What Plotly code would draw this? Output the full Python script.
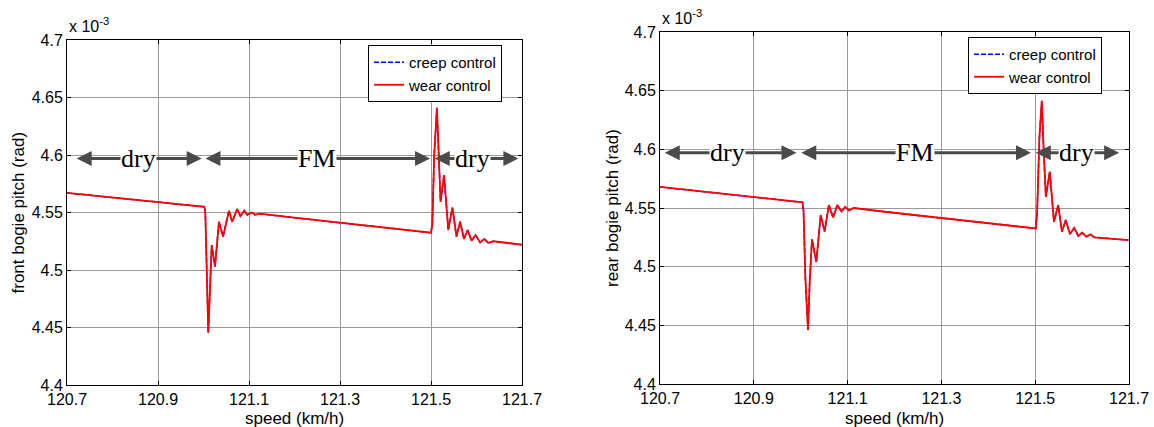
import plotly.graph_objects as go

# Front bogie pitch (x 1e-3 rad) against vehicle speed (km/h)
front_speed = [120.700, 121.002, 121.004, 121.007, 121.0105, 121.014, 121.018, 121.0253,
               121.034, 121.043, 121.056, 121.063, 121.074, 121.081, 121.0897, 121.096,
               121.106, 121.113, 121.123, 121.179, 121.500, 121.503, 121.507, 121.513,
               121.517, 121.521, 121.5286, 121.538, 121.547, 121.556, 121.564, 121.5725,
               121.5806, 121.589, 121.598, 121.608, 121.617, 121.626, 121.637, 121.700]
front_pitch = [4.567, 4.555, 4.550, 4.490, 4.4455, 4.480, 4.5217, 4.503,
               4.542, 4.529, 4.5516, 4.542, 4.553, 4.547, 4.5516, 4.548,
               4.550, 4.548, 4.549, 4.5464, 4.5324, 4.540, 4.600, 4.6411,
               4.600, 4.5594, 4.5826, 4.5348, 4.5542, 4.529, 4.542, 4.527,
               4.5348, 4.5255, 4.5304, 4.524, 4.527, 4.5235, 4.525, 4.522]

# Rear bogie pitch (x 1e-3 rad) against vehicle speed (km/h)
rear_speed = [120.700, 121.004, 121.006, 121.010, 121.0156, 121.019, 121.024, 121.0333,
              121.0426, 121.051, 121.060, 121.069, 121.078, 121.087, 121.095, 121.103,
              121.113, 121.179, 121.501, 121.504, 121.509, 121.514, 121.518, 121.5227,
              121.531, 121.540, 121.549, 121.557, 121.565, 121.574, 121.583, 121.592,
              121.600, 121.609, 121.618, 121.626, 121.699]
rear_pitch = [4.568, 4.5548, 4.548, 4.490, 4.446, 4.485, 4.5233, 4.504,
              4.544, 4.530, 4.5525, 4.542, 4.5525, 4.547, 4.551, 4.548,
              4.550, 4.5468, 4.5326, 4.545, 4.610, 4.6414, 4.600, 4.5596,
              4.581, 4.5383, 4.5525, 4.5298, 4.5397, 4.5278, 4.533, 4.5261,
              4.529, 4.5255, 4.5275, 4.525, 4.5227]

x_ticks = [120.7, 120.9, 121.1, 121.3, 121.5, 121.7]
x_tick_text = ["120.7", "120.9", "121.1", "121.3", "121.5", "121.7"]
y_ticks = [4.4, 4.45, 4.5, 4.55, 4.6, 4.65, 4.7]
y_tick_text = ["4.4", "4.45", "4.5", "4.55", "4.6", "4.65", "4.7"]

# Contact-condition zones: (label, start, end, label position)
front_zones = [("dry", 120.718, 120.996, 120.858),
               ("FM", 121.001, 121.498, 121.249),
               ("dry", 121.505, 121.692, 121.592)]
rear_zones = [("dry", 120.707, 120.991, 120.845),
              ("FM", 120.998, 121.491, 121.243),
              ("dry", 121.498, 121.679, 121.587)]
zone_level = 4.597

W, H = 1154, 427
SANS = "Liberation Sans, Arial, sans-serif"
SERIF = "Liberation Serif, Times New Roman, serif"

fig = go.Figure()

panels = [
    dict(xa="x", ya="y", speed=front_speed, pitch=front_pitch, legend="legend"),
    dict(xa="x2", ya="y2", speed=rear_speed, pitch=rear_pitch, legend="legend2"),
]
for p in panels:
    fig.add_trace(go.Scatter(x=p["speed"], y=p["pitch"], mode="lines", name="creep control",
                             line=dict(color="#0000ff", width=1.5, dash="5px,2px"),
                             xaxis=p["xa"], yaxis=p["ya"], legend=p["legend"]))
    fig.add_trace(go.Scatter(x=p["speed"], y=p["pitch"], mode="lines", name="wear control",
                             line=dict(color="#ff0000", width=1.8),
                             xaxis=p["xa"], yaxis=p["ya"], legend=p["legend"]))

axis_common = dict(
    showline=True, linecolor="black", linewidth=1, mirror="ticks",
    ticks="inside", ticklen=4, tickcolor="black", automargin=False,
    showgrid=True, gridcolor="#9a9a9a", gridwidth=1, zeroline=False,
    tickfont=dict(family=SANS, size=16, color="black"),
)

def px_x(v):
    return v / W

def px_y(v):
    return 1 - v / H

legend_common = dict(xanchor="left", yanchor="top", bgcolor="white",
                     bordercolor="black", borderwidth=1, tracegroupgap=0,
                     font=dict(family=SANS, size=15, color="black"))

fig.update_layout(
    width=W, height=H,
    margin=dict(l=0, r=0, t=0, b=0, autoexpand=False),
    paper_bgcolor="white", plot_bgcolor="white",
    showlegend=True,
    xaxis=dict(domain=[px_x(67), px_x(522)], range=[120.7, 121.7],
               tickvals=x_ticks, ticktext=x_tick_text, anchor="y", **axis_common),
    yaxis=dict(domain=[px_y(385), px_y(40)], range=[4.4, 4.7],
               tickvals=y_ticks, ticktext=y_tick_text, anchor="x", **axis_common),
    xaxis2=dict(domain=[px_x(660), px_x(1129)], range=[120.7, 121.7],
                tickvals=x_ticks, ticktext=x_tick_text, anchor="y2", **axis_common),
    yaxis2=dict(domain=[px_y(384), px_y(32)], range=[4.4, 4.7],
                tickvals=y_ticks, ticktext=y_tick_text, anchor="x2", **axis_common),
    legend=dict(x=px_x(368), y=px_y(45), **legend_common),
    legend2=dict(x=px_x(968), y=px_y(37), **legend_common),
)

annotations = []
for xa, ya, zones in (("x", "y", front_zones), ("x2", "y2", rear_zones)):
    for label, x0, x1, xm in zones:
        annotations.append(dict(
            x=x1, y=zone_level, ax=x0, ay=zone_level, xref=xa, yref=ya,
            axref=xa, ayref=ya, text="", showarrow=True, arrowside="end+start",
            arrowhead=2, arrowsize=1.0, arrowwidth=3, arrowcolor="#4a4a4a",
            standoff=0, startstandoff=0))
    for label, x0, x1, xm in zones:
        annotations.append(dict(
            x=xm, y=zone_level, xref=xa, yref=ya, text=label, showarrow=False,
            bgcolor="white", borderpad=0, xanchor="center", yanchor="middle",
            font=dict(family=SERIF, size=26, color="black")))

# Axis titles and exponent labels
title_font = dict(family=SANS, size=17, color="black")
annotations += [
    dict(x=px_x(294.5), y=px_y(418), xref="paper", yref="paper", text="speed (km/h)",
         xanchor="center", yanchor="middle", showarrow=False, font=title_font),
    dict(x=px_x(894.5), y=px_y(418), xref="paper", yref="paper", text="speed (km/h)",
         xanchor="center", yanchor="middle", showarrow=False, font=title_font),
    dict(x=px_x(18), y=px_y(212.5), xref="paper", yref="paper",
         text="front bogie pitch (rad)", textangle=-90, xanchor="center", yanchor="middle",
         showarrow=False, font=title_font),
    dict(x=px_x(612), y=px_y(208), xref="paper", yref="paper",
         text="rear bogie pitch (rad)", textangle=-90, xanchor="center", yanchor="middle",
         showarrow=False, font=title_font),
    dict(x=px_x(67), y=px_y(37), xref="paper", yref="paper", xanchor="left", yanchor="bottom",
         text="x 10<sup>-3</sup>", showarrow=False,
         font=dict(family=SANS, size=16, color="black")),
    dict(x=px_x(660), y=px_y(29), xref="paper", yref="paper", xanchor="left", yanchor="bottom",
         text="x 10<sup>-3</sup>", showarrow=False,
         font=dict(family=SANS, size=16, color="black")),
]
fig.update_layout(annotations=annotations)

fig.write_html("out.html")
